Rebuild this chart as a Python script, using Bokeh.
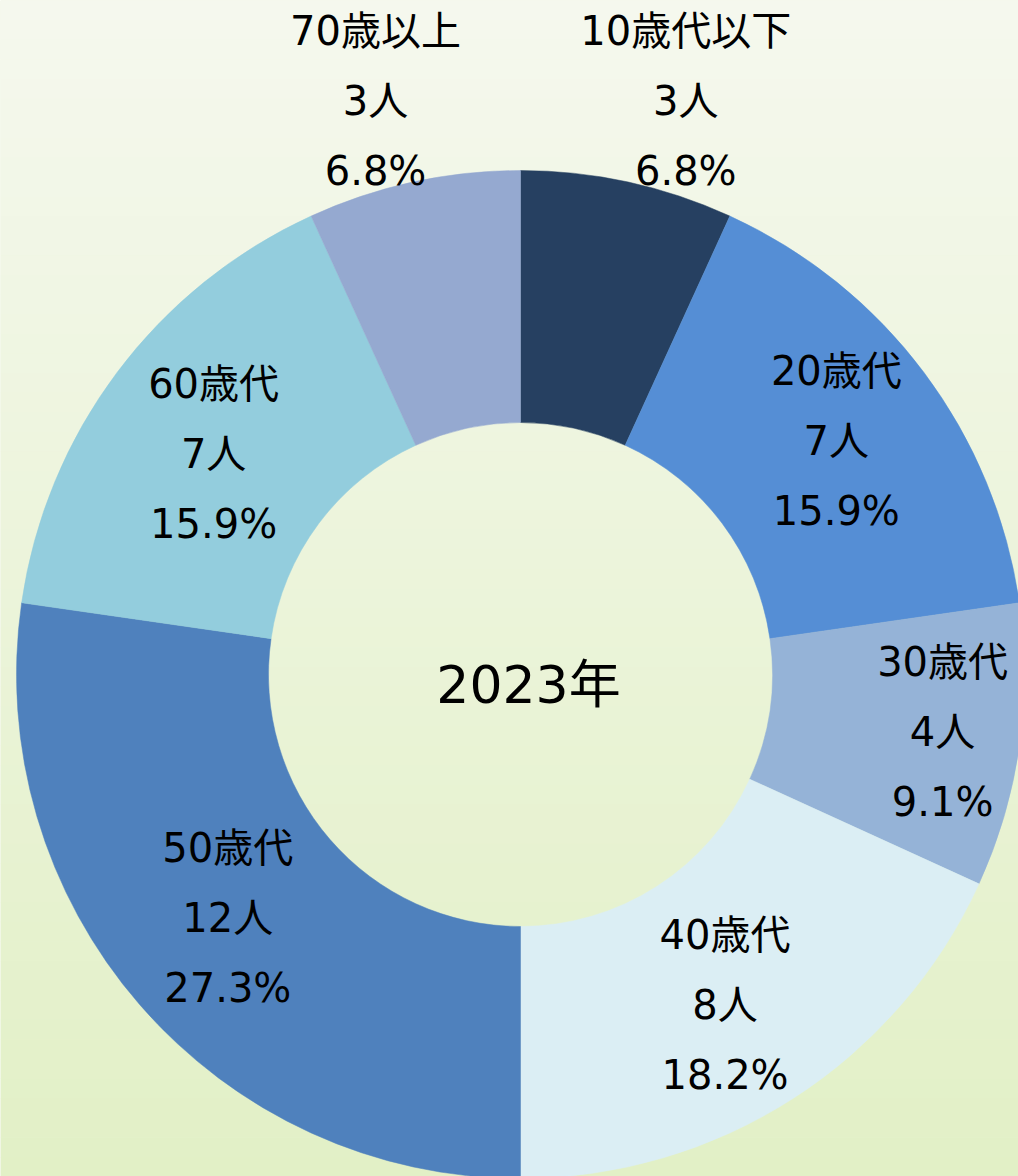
import math
from bokeh.plotting import figure
from bokeh.models import Range1d, ColumnDataSource
from bokeh.core.properties import value
from bokeh.embed import file_html
from bokeh.resources import INLINE

# ---- data ----
categories = ["10歳代以下", "20歳代", "30歳代", "40歳代", "50歳代", "60歳代", "70歳以上"]
counts = [3, 7, 4, 8, 12, 7, 3]
colors = ["#264061", "#558ed5", "#95b3d7", "#dbeef4", "#4f81bd", "#93cddd", "#95a9d0"]
center_title = "2023年"

# ---- layout / style ----
W, H = 1018, 1176
cx, cy = 520, H - 674          # donut centre (data coords, y up)
r_in, r_out = 252, 504
label_r = [597, 393, 426, 389, 381, 378, 592]
label_shift = [3.8, 0.3, -0.4, 1.0, 1.1, -1.1, -1.9]  # angular shift (deg)
FONT = "'DejaVu Sans', 'Noto Sans CJK JP'"

total = sum(counts)
starts, ends, lx, ly, names, ppl, pcts = [], [], [], [], [], [], []
cum = 0
for i, c in enumerate(counts):
    a0 = cum / total
    a1 = (cum + c) / total
    cum += c
    starts.append(math.pi / 2 - 2 * math.pi * a1)
    ends.append(math.pi / 2 - 2 * math.pi * a0)
    mid = math.pi / 2 - 2 * math.pi * (a0 + a1) / 2 - math.radians(label_shift[i])
    lx.append(cx + label_r[i] * math.cos(mid))
    ly.append(cy + label_r[i] * math.sin(mid))
    names.append(categories[i])
    ppl.append(f"{c}人")
    pcts.append(f"{c / total * 100:.1f}%")

src = ColumnDataSource(dict(start=starts, end=ends, color=colors,
                            x=lx, y=ly, name=names, ppl=ppl, pct=pcts))

p = figure(width=W, height=H, x_range=Range1d(0, W), y_range=Range1d(0, H),
           output_backend="svg", toolbar_location=None, min_border=0)
p.axis.visible = False
p.grid.visible = False
p.outline_line_color = None

# background vertical gradient (top light -> bottom greener)
top = (245, 248, 238)
bot = (226, 240, 198)
n = 60
bx0, bx1, bb, bt, bc = [], [], [], [], []
for k in range(n):
    t = (k + 0.5) / n
    col = tuple(int(round(top[j] + (bot[j] - top[j]) * t)) for j in range(3))
    bt.append(H - H * k / n)
    bb.append(H - H * (k + 1) / n - 0.5)
    bx0.append(0)
    bx1.append(W)
    bc.append("#%02x%02x%02x" % col)
p.quad(left=bx0, right=bx1, bottom=bb, top=bt, fill_color=bc, line_color=None)
p.background_fill_color = "#ecf4da"
p.border_fill_color = "#ecf4da"

p.annular_wedge(x=cx, y=cy, inner_radius=r_in, outer_radius=r_out,
                start_angle="start", end_angle="end", fill_color="color",
                line_color="color", line_width=0.5, source=src)

common = dict(x="x", y="y", text_font=value(FONT), text_font_size="40px",
              text_color="#000000", text_align="center", text_baseline="middle",
              source=src)
p.text(text="name", y_offset=-70, **common)
p.text(text="ppl", y_offset=0, **common)
p.text(text="pct", y_offset=70, **common)

p.text(x=[cx + 8], y=[cy - 10], text=[center_title], text_font=value(FONT),
       text_font_size="52px", text_color="#000000", text_align="center",
       text_baseline="middle")

open("out.html", "w").write(file_html(p, INLINE))
